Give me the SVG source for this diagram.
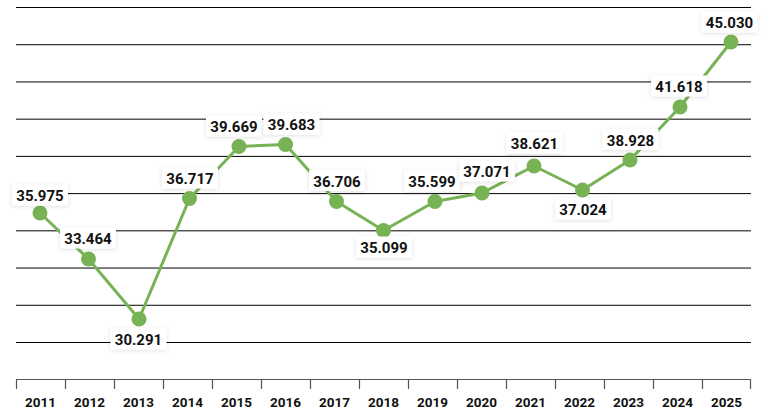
<svg xmlns="http://www.w3.org/2000/svg" width="776" height="411" viewBox="0 0 776 411">
<defs>
<filter id="sh" x="-20%" y="-40%" width="140%" height="180%">
<feDropShadow dx="0" dy="1" stdDeviation="2" flood-color="#000" flood-opacity="0.12"/>
</filter>
<style>
.grid{stroke:#000;stroke-width:1;fill:none}
.axis{stroke:#555;stroke-width:1.2;fill:none}
.line{stroke:#77b255;stroke-width:3;fill:none;stroke-linejoin:round}
.pt{fill:#77b255}
.box{fill:#fff;filter:url(#sh)}
.val{font-family:Roboto,"Liberation Sans",sans-serif;font-weight:700;font-size:15px;fill:#111;text-anchor:middle}
.yr{font-family:Roboto,"Liberation Sans",sans-serif;font-weight:700;font-size:13.5px;fill:#111;text-anchor:middle}
</style>
</defs>
<rect width="776" height="411" fill="#fff"/>
<g id="gridlines">
<line class="grid" x1="16" x2="751" y1="7.5" y2="7.5"/>
<line class="grid" x1="16" x2="751" y1="44.72" y2="44.72"/>
<line class="grid" x1="16" x2="751" y1="81.94" y2="81.94"/>
<line class="grid" x1="16" x2="751" y1="119.17" y2="119.17"/>
<line class="grid" x1="16" x2="751" y1="156.39" y2="156.39"/>
<line class="grid" x1="16" x2="751" y1="193.61" y2="193.61"/>
<line class="grid" x1="16" x2="751" y1="230.83" y2="230.83"/>
<line class="grid" x1="16" x2="751" y1="268.06" y2="268.06"/>
<line class="grid" x1="16" x2="751" y1="305.28" y2="305.28"/>
<line class="grid" x1="16" x2="751" y1="342.5" y2="342.5"/>
</g>
<g id="axis">
<path class="axis" d="M16.5 389V379.5H750.5V389M65.5 379.5V389M114.5 379.5V389M163.5 379.5V389M212.5 379.5V389M261.5 379.5V389M310.5 379.5V389M359.5 379.5V389M408.5 379.5V389M457.5 379.5V389M506.5 379.5V389M555.5 379.5V389M604.5 379.5V389M653.5 379.5V389M702.5 379.5V389"/>
<text class="yr" x="40.5" y="407">2011</text>
<text class="yr" x="89.5" y="407">2012</text>
<text class="yr" x="138.5" y="407">2013</text>
<text class="yr" x="187.5" y="407">2014</text>
<text class="yr" x="236.5" y="407">2015</text>
<text class="yr" x="285.5" y="407">2016</text>
<text class="yr" x="334.5" y="407">2017</text>
<text class="yr" x="383.5" y="407">2018</text>
<text class="yr" x="432.5" y="407">2019</text>
<text class="yr" x="481.5" y="407">2020</text>
<text class="yr" x="530.5" y="407">2021</text>
<text class="yr" x="579.5" y="407">2022</text>
<text class="yr" x="628.5" y="407">2023</text>
<text class="yr" x="677.5" y="407">2024</text>
<text class="yr" x="726.5" y="407">2025</text>
</g>
<g id="connectors">
<polyline class="line" points="40,213 88.5,259 139,319 189.5,198.5 239,146.5 285.5,144.5 336.5,201.5 383.5,230.5 435,201.5 482,193 534,166 582.5,190 630,160 680,107 731,42"/>
</g>
<g id="points">
<circle class="pt" cx="40" cy="213" r="7.5"/>
<circle class="pt" cx="88.5" cy="259" r="7.5"/>
<circle class="pt" cx="139" cy="319" r="7.5"/>
<circle class="pt" cx="189.5" cy="198.5" r="7.5"/>
<circle class="pt" cx="239" cy="146.5" r="7.5"/>
<circle class="pt" cx="285.5" cy="144.5" r="7.5"/>
<circle class="pt" cx="336.5" cy="201.5" r="7.5"/>
<circle class="pt" cx="383.5" cy="230.5" r="7.5"/>
<circle class="pt" cx="435" cy="201.5" r="7.5"/>
<circle class="pt" cx="482" cy="193" r="7.5"/>
<circle class="pt" cx="534" cy="166" r="7.5"/>
<circle class="pt" cx="582.5" cy="190" r="7.5"/>
<circle class="pt" cx="630" cy="160" r="7.5"/>
<circle class="pt" cx="680" cy="107" r="7.5"/>
<circle class="pt" cx="731" cy="42" r="7.5"/>
</g>
<g id="labels">
<g id="l2011"><rect class="box" x="12" y="184.5" width="56" height="21"/><text class="val" x="40" y="201">35.975</text></g>
<g id="l2012"><rect class="box" x="60" y="227.5" width="56" height="21"/><text class="val" x="88" y="244">33.464</text></g>
<g id="l2013"><rect class="box" x="110.5" y="328.5" width="56" height="21"/><text class="val" x="138.5" y="345">30.291</text></g>
<g id="l2014"><rect class="box" x="162" y="167.5" width="56" height="21"/><text class="val" x="190" y="184">36.717</text></g>
<g id="l2015"><rect class="box" x="206" y="115.5" width="56" height="21"/><text class="val" x="234" y="132">39.669</text></g>
<g id="l2016"><rect class="box" x="263.5" y="113.5" width="56" height="21"/><text class="val" x="291.5" y="130">39.683</text></g>
<g id="l2017"><rect class="box" x="309" y="170" width="56" height="21"/><text class="val" x="337" y="186.5">36.706</text></g>
<g id="l2018"><rect class="box" x="356" y="236.5" width="56" height="21"/><text class="val" x="384" y="253">35.099</text></g>
<g id="l2019"><rect class="box" x="404" y="170.5" width="56" height="21"/><text class="val" x="432" y="187">35.599</text></g>
<g id="l2020"><rect class="box" x="459" y="160.5" width="56" height="21"/><text class="val" x="487" y="177">37.071</text></g>
<g id="l2021"><rect class="box" x="506.5" y="132.5" width="56" height="21"/><text class="val" x="534.5" y="149">38.621</text></g>
<g id="l2022"><rect class="box" x="555" y="198.5" width="56" height="21"/><text class="val" x="583" y="215">37.024</text></g>
<g id="l2023"><rect class="box" x="602.5" y="129" width="56" height="21"/><text class="val" x="630.5" y="145.5">38.928</text></g>
<g id="l2024"><rect class="box" x="651" y="75.5" width="56" height="21"/><text class="val" x="679" y="92">41.618</text></g>
<g id="l2025"><rect class="box" x="701.5" y="11.5" width="56" height="21"/><text class="val" x="729.5" y="28">45.030</text></g>
</g>
</svg>
